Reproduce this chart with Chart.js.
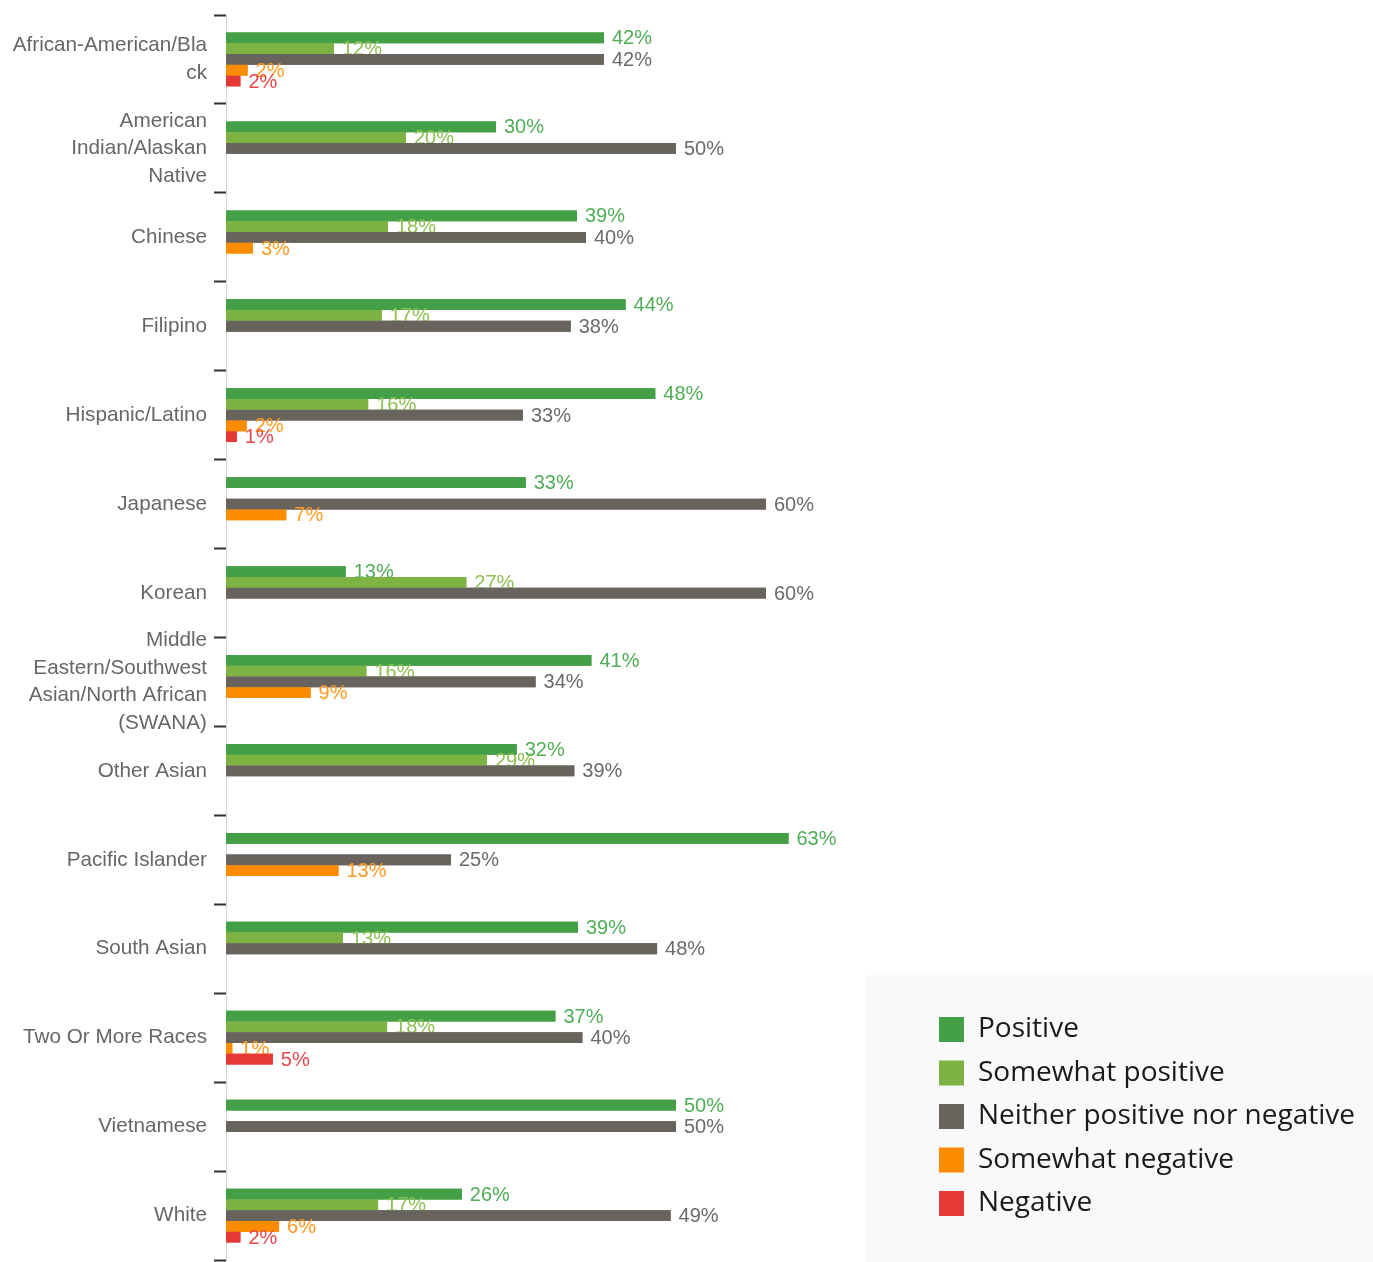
<!DOCTYPE html>
<html>
<head>
<meta charset="utf-8">
<script src="https://cdn.jsdelivr.net/npm/chart.js@4.4.1/dist/chart.umd.min.js"></script>
<style>
  html, body { margin: 0; padding: 0; background: #ffffff; }
  #wrap { position: relative; width: 1373px; height: 1262px; }
  canvas { display: block; }
</style>
</head>
<body>
<div id="wrap"><canvas id="c" width="1373" height="1262"></canvas></div>
<script>
// ---- data ----
const categories = [
  "African-American/Black", "American Indian/Alaskan Native", "Chinese", "Filipino",
  "Hispanic/Latino", "Japanese", "Korean", "Middle Eastern/Southwest Asian/North African (SWANA)",
  "Other Asian", "Pacific Islander", "South Asian", "Two Or More Races", "Vietnamese", "White"
];
const tickLabels = [
  ["African-American/Bla", "ck"],
  ["American", "Indian/Alaskan", "Native"],
  "Chinese",
  "Filipino",
  "Hispanic/Latino",
  "Japanese",
  "Korean",
  ["Middle", "Eastern/Southwest", "Asian/North African", "(SWANA)"],
  "Other Asian",
  "Pacific Islander",
  "South Asian",
  "Two Or More Races",
  "Vietnamese",
  "White"
];
const seriesNames = ["Positive", "Somewhat positive", "Neither positive nor negative", "Somewhat negative", "Negative"];
const positive         = [42.0, 30, 39, 44.4, 47.7, 33.3, 13.3, 40.6, 32.3, 62.5, 39.1, 36.6, 50, 26.2];
const somewhatPositive = [12.0, 20, 18, 17.3, 15.8, null, 26.7, 15.6, 29.0, null, 13.0, 17.9, null, 16.9];
const neither          = [42.0, 50, 40, 38.3, 33.0, 60, 60, 34.4, 38.7, 25, 47.9, 39.6, 50, 49.4];
const somewhatNegative = [2.4, null, 3, null, 2.3, 6.7, null, 9.4, null, 12.5, null, 0.7, null, 5.9];
const negative         = [1.6, null, null, null, 1.2, null, null, null, null, null, null, 5.2, null, 1.6];

// ---- styles ----
const barColors   = ["#43a047", "#7cb342", "#68635d", "#fb8c00", "#e53935"];
const labelColors = ["#4fae55", "#8cc152", "#6a6a6a", "#ff9a1f", "#e8474a"];
const PX_PER_PERCENT = 9;

const seriesValues = [positive, somewhatPositive, neither, somewhatNegative, negative];

const valueLabels = {
  id: 'valueLabels',
  afterDatasetsDraw(chart) {
    const ctx = chart.ctx;
    chart.data.datasets.forEach((ds, i) => {
      const meta = chart.getDatasetMeta(i);
      if (meta.hidden) return;
      ctx.save();
      // redraw this dataset's bars so that later labels stack like the original
      meta.data.forEach((el, j) => { if (ds.data[j] != null) el.draw(ctx); });
      ctx.font = '20px "Liberation Sans", Arial, sans-serif';
      ctx.fillStyle = labelColors[i];
      ctx.textBaseline = 'middle';
      ctx.textAlign = 'left';
      meta.data.forEach((el, j) => {
        const v = ds.data[j];
        if (v == null) return;
        ctx.fillText(Math.round(v) + '%', el.x + 8, el.y + 1);
      });
      ctx.restore();
    });
  }
};

const legendPanel = {
  id: 'legendPanel',
  afterLayout(chart) {
    const L = chart.legend;
    if (!L) return;
    L.left = 923.5;
    L.right = chart.width;
    L.width = L.right - L.left;
    L.bottom = 1233;
    L.height = L.bottom - L.top;
  },
  beforeDraw(chart) {
    const ctx = chart.ctx;
    ctx.save();
    ctx.fillStyle = '#f9f9fb';
    ctx.fillRect(865, 975, chart.width - 865, chart.height - 975);
    ctx.restore();
  }
};

new Chart(document.getElementById('c'), {
  type: 'bar',
  data: {
    labels: categories,
    datasets: seriesNames.map((name, i) => ({
      label: name,
      data: seriesValues[i],
      backgroundColor: barColors[i],
      borderWidth: 0,
      barPercentage: 1.0,
      categoryPercentage: 0.605
    }))
  },
  options: {
    indexAxis: 'y',
    responsive: false,
    animation: false,
    events: [],
    layout: { padding: { top: 15, right: 0, bottom: 2, left: 0 } },
    scales: {
      x: {
        display: false,
        bounds: 'data',
        min: 0,
        afterDataLimits: (s) => { s.min = 0; s.max = s.width / PX_PER_PERCENT; }
      },
      y: {
        afterFit: (s) => { s.width = 226; s.paddingTop = 0; s.paddingBottom = 0; },
        grid: {
          display: true,
          offset: true,
          drawOnChartArea: false,
          drawTicks: true,
          tickLength: 12,
          tickWidth: 2,
          tickColor: '#333333'
        },
        border: { display: true, color: '#d4d4d4', width: 1 },
        ticks: {
          padding: 7,
          color: '#666666',
          font: { family: '"Liberation Sans", Arial, sans-serif', size: 20.7, lineHeight: 1.33 },
          autoSkip: false,
          callback: (v, i) => tickLabels[i]
        }
      }
    },
    plugins: {
      tooltip: { enabled: false },
      legend: {
        display: true,
        position: 'right',
        align: 'end',
        labels: {
          font: { family: '"Open Sans", "Noto Sans", sans-serif', size: 28 },
          color: '#1a1a1a',
          boxWidth: 25,
          boxHeight: 25,
          padding: 15.5
        }
      }
    }
  },
  plugins: [valueLabels, legendPanel]
});
</script>
</body>
</html>
